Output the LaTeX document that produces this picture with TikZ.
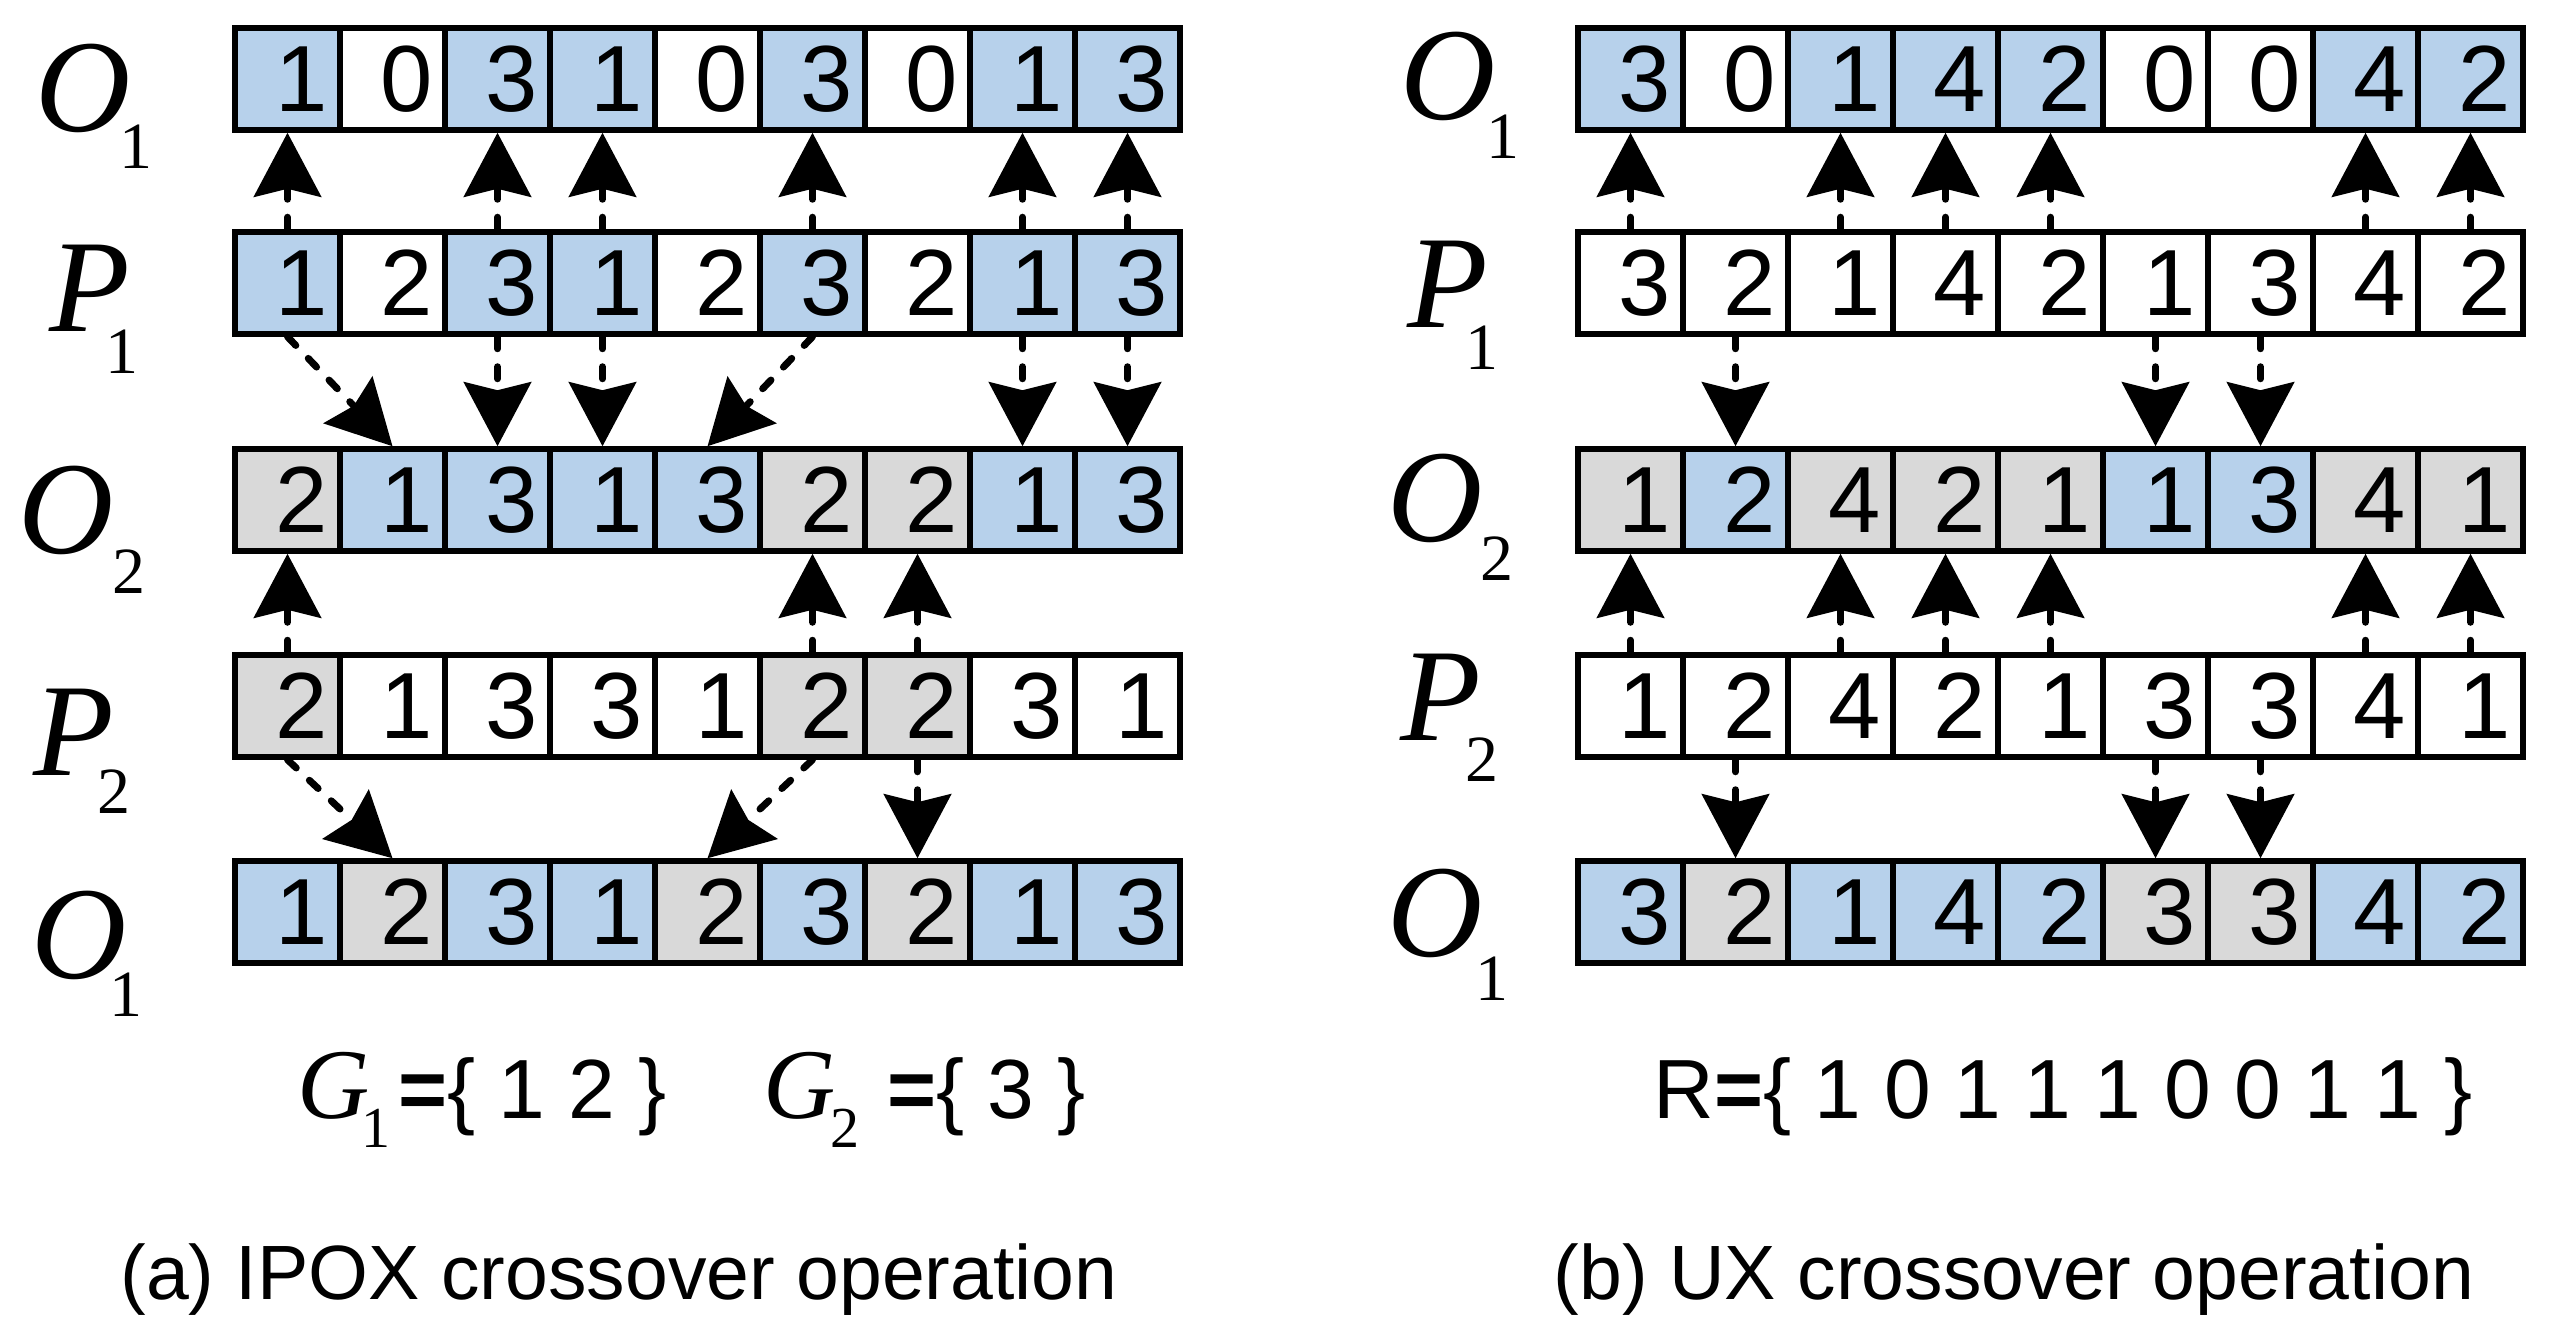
\documentclass[tikz,border=0pt]{standalone}
\usepackage{fontspec}
\setmainfont{Liberation Sans}
\newfontfamily\tms{Liberation Serif}
\usetikzlibrary{arrows.meta}
\definecolor{cB}{HTML}{B7D1EB}
\definecolor{cG}{HTML}{D9D9D9}
\definecolor{cW}{HTML}{FFFFFF}
\newcommand{\mkrow}[4]{\foreach \val/\col [count=\i from 0] in {#4} {\node[cell, fill=c\col] (#1\i) at ({#2+105*\i},#3) {\hspace*{14pt}\val};}}
\begin{document}
\begin{tikzpicture}[x=0.5pt,y=-0.5pt,
 cell/.style={draw, line width=2.75pt, minimum width=52.5pt, minimum height=51pt, inner sep=0pt, font=\fontsize{47}{50}\selectfont},
 arr/.style={line width=3.5pt, dash pattern=on 6pt off 9pt, line cap=round, -{Stealth[length=32pt,width=33.5pt,inset=4pt]}},
 lbl/.style={font=\tms\itshape\fontsize{66}{70}\selectfont, inner sep=0pt, anchor=base},
 sublbl/.style={font=\tms\fontsize{33}{36}\selectfont, inner sep=0pt, anchor=base},
 glbl/.style={font=\tms\itshape\fontsize{50}{54}\selectfont, inner sep=0pt, anchor=base},
 gsub/.style={font=\tms\fontsize{29}{32}\selectfont, inner sep=0pt, anchor=base},
 gtxt/.style={font=\fontsize{42}{46}\selectfont, inner sep=0pt, anchor=base west},
 captxt/.style={font=\fontsize{38.5}{42}\selectfont, inner sep=0pt, anchor=base}]
\useasboundingbox (0,0) rectangle (2562,1342);
\fill[white] (0,0) rectangle (2562,1342);
% left panel rows
\mkrow{LA}{287.5}{79}{1/B,0/W,3/B,1/B,0/W,3/B,0/W,1/B,3/B}
\mkrow{LB}{287.5}{283}{1/B,2/W,3/B,1/B,2/W,3/B,2/W,1/B,3/B}
\mkrow{LC}{287.5}{500}{2/G,1/B,3/B,1/B,3/B,2/G,2/G,1/B,3/B}
\mkrow{LD}{287.5}{706}{2/G,1/W,3/W,3/W,1/W,2/G,2/G,3/W,1/W}
\mkrow{LE}{287.5}{912}{1/B,2/G,3/B,1/B,2/G,3/B,2/G,1/B,3/B}
% right panel rows
\mkrow{RA}{1630.5}{79}{3/B,0/W,1/B,4/B,2/B,0/W,0/W,4/B,2/B}
\mkrow{RB}{1630.5}{283}{3/W,2/W,1/W,4/W,2/W,1/W,3/W,4/W,2/W}
\mkrow{RC}{1630.5}{500}{1/G,2/B,4/G,2/G,1/G,1/B,3/B,4/G,1/G}
\mkrow{RD}{1630.5}{706}{1/W,2/W,4/W,2/W,1/W,3/W,3/W,4/W,1/W}
\mkrow{RE}{1630.5}{912}{3/B,2/G,1/B,4/B,2/B,3/G,3/G,4/B,2/B}
% left arrows
\foreach \k in {0,2,3,5,7,8} {\draw[arr] (LB\k.north) -- (LA\k.south);}
\draw[arr] (LB0.south) -- (LC1.north);
\draw[arr] (LB2.south) -- (LC2.north);
\draw[arr] (LB3.south) -- (LC3.north);
\draw[arr] (LB5.south) -- (LC4.north);
\draw[arr] (LB7.south) -- (LC7.north);
\draw[arr] (LB8.south) -- (LC8.north);
\foreach \k in {0,5,6} {\draw[arr] (LD\k.north) -- (LC\k.south);}
\draw[arr] (LD0.south) -- (LE1.north);
\draw[arr] (LD5.south) -- (LE4.north);
\draw[arr] (LD6.south) -- (LE6.north);
% right arrows
\foreach \k in {0,2,3,4,7,8} {\draw[arr] (RB\k.north) -- (RA\k.south);}
\foreach \k in {1,5,6} {\draw[arr] (RB\k.south) -- (RC\k.north);}
\foreach \k in {0,2,3,4,7,8} {\draw[arr] (RD\k.north) -- (RC\k.south);}
\foreach \k in {1,5,6} {\draw[arr] (RD\k.south) -- (RE\k.north);}
% left labels
\node[lbl] (lO1) at (83,132) {O};   \node[sublbl] (lO1s) at (136,169) {1};
\node[lbl] (lP1) at (90,332) {P};   \node[sublbl] (lP1s) at (122,373) {1};
\node[lbl] (lO2) at (66,553) {O};   \node[sublbl] (lO2s) at (129,593) {2};
\node[lbl] (lP2) at (74,775) {P};   \node[sublbl] (lP2s) at (114,813) {2};
\node[lbl] (lO3) at (79,978) {O};   \node[sublbl] (lO3s) at (126,1016) {1};
% right labels
\node[lbl] (rO1) at (1448,120) {O}; \node[sublbl] (rO1s) at (1503,159) {1};
\node[lbl] (rP1) at (1448,328) {P}; \node[sublbl] (rP1s) at (1482,370) {1};
\node[lbl] (rO2) at (1435,541) {O}; \node[sublbl] (rO2s) at (1497,580) {2};
\node[lbl] (rP2) at (1441,740) {P}; \node[sublbl] (rP2s) at (1482,781) {2};
\node[lbl] (rO3) at (1435,956) {O}; \node[sublbl] (rO3s) at (1492,1000) {1};
% group sets
\node[glbl] (g1) at (334,1118) {G}; \node[gsub] (g1s) at (376,1147) {1};
\node[gtxt] (g1t) at (398,1118) {\textbf{=}\{ 1 2 \}};
\node[glbl] (g2) at (800,1118) {G}; \node[gsub] (g2s) at (845,1147) {2};
\node[gtxt] (g2t) at (887,1118) {\textbf{=}\{ 3 \}};
\node[gtxt] (rset) at (1653,1118) {R\textbf{=}\{ 1 0 1 1 1 0 0 1 1 \}};
% captions
\node[captxt] (capa) at (619,1299) {(a) IPOX crossover operation};
\node[captxt] (capb) at (2014,1299) {(b) UX crossover operation};
\end{tikzpicture}
\end{document}
